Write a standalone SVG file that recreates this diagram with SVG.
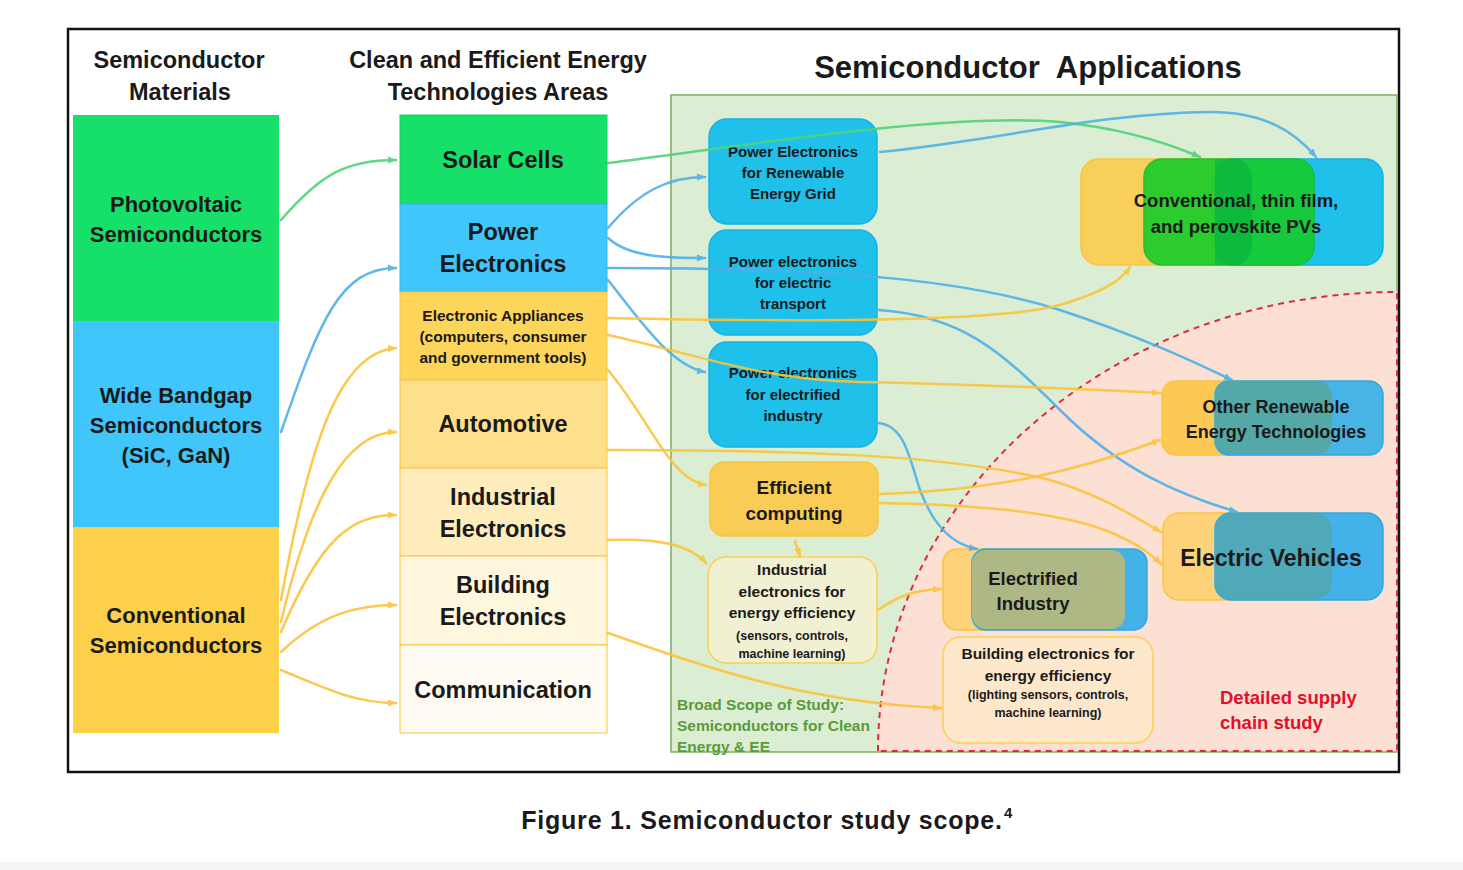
<svg xmlns="http://www.w3.org/2000/svg" width="1463" height="870" viewBox="0 0 1463 870">
<style>
text{font-family:"Liberation Sans",Arial,sans-serif;font-weight:bold;fill:#1a1a1a;text-anchor:middle}
.hd{font-size:23.5px}
.lc{font-size:22px}
.mc{font-size:23.5px}
.ap{font-size:15px}
.sm{font-size:12.5px}
.cl{fill:none;stroke-width:2.5;stroke-linecap:round;opacity:0.9}
.g{stroke:#52d37a}
.b{stroke:#4fb0e8}
.y{stroke:#fbc43a}
.blu{fill:#1fc0ea;stroke:#14b2e6;stroke-width:1.5}
.yel{fill:#f9cd55;stroke:#fbc43a;stroke-width:1.5}
</style>
<defs>
<marker id="aG" viewBox="0 0 10 10" refX="9" refY="5" markerWidth="9" markerHeight="9" markerUnits="userSpaceOnUse" orient="auto"><path d="M0,1 L10,5 L0,9 z" fill="#52d37a"/></marker>
<marker id="aB" viewBox="0 0 10 10" refX="9" refY="5" markerWidth="9" markerHeight="9" markerUnits="userSpaceOnUse" orient="auto"><path d="M0,1 L10,5 L0,9 z" fill="#4fb0e8"/></marker>
<marker id="aY" viewBox="0 0 10 10" refX="9" refY="5" markerWidth="9" markerHeight="9" markerUnits="userSpaceOnUse" orient="auto"><path d="M0,1 L10,5 L0,9 z" fill="#fbc43a"/></marker>
<clipPath id="pvTriple"><rect x="1215" y="150" width="100" height="130"/></clipPath>
</defs>
<rect x="0" y="0" width="1463" height="870" fill="#ffffff"/>
<rect x="0" y="862" width="1463" height="8" fill="#f4f4f4"/>
<rect x="68" y="29" width="1331" height="743" fill="#ffffff" stroke="#111" stroke-width="2.5"/>

<g id="regions">
<rect x="671" y="95" width="726" height="657" fill="#dbeed4" stroke="#78b060" stroke-width="1.5"/>
<path d="M878,751 A519,459 0 0 1 1397,292 L1397,751 Z" fill="#fde0d4"/>
<path d="M878,751 A519,459 0 0 1 1397,292 L1397,751 Z" fill="none" stroke="#e02a3a" stroke-width="2" stroke-dasharray="6,5"/>
</g>

<g id="headers">
<text class="hd" x="179" y="68">Semiconductor</text>
<text class="hd" x="180" y="100">Materials</text>
<text class="hd" x="498" y="68">Clean and Efficient Energy</text>
<text class="hd" x="498" y="100">Technologies Areas</text>
<text x="1028" y="78" style="font-size:31px" xml:space="preserve">Semiconductor  Applications</text>
</g>

<g id="mat-pv"><rect x="73" y="115" width="206" height="206" fill="#16e06a"/><text class="lc" x="176" y="212">Photovoltaic</text><text class="lc" x="176" y="242">Semiconductors</text></g>
<g id="mat-wbg"><rect x="73" y="321" width="206" height="206" fill="#40c6fa"/><text class="lc" x="176" y="403">Wide Bandgap</text><text class="lc" x="176" y="433">Semiconductors</text><text class="lc" x="176" y="463">(SiC, GaN)</text></g>
<g id="mat-conv"><rect x="73" y="527" width="206" height="206" fill="#fdd04a"/><text class="lc" x="176" y="623">Conventional</text><text class="lc" x="176" y="653">Semiconductors</text></g>

<g id="area-solar"><rect x="400" y="115" width="207" height="89" fill="#16e06a" stroke="#14d060"/><text class="mc" x="503" y="168">Solar Cells</text></g>
<g id="area-power"><rect x="400" y="204" width="207" height="88" fill="#40c6fa" stroke="#30b8f0"/><text class="mc" x="503" y="240">Power</text><text class="mc" x="503" y="272">Electronics</text></g>
<g id="area-appl"><rect x="400" y="292" width="207" height="88" fill="#fdd55a" stroke="#fbc43a"/><text style="font-size:15.5px" x="503" y="321">Electronic Appliances</text><text style="font-size:15.5px" x="503" y="342">(computers, consumer</text><text style="font-size:15.5px" x="503" y="363">and government tools)</text></g>
<g id="area-auto"><rect x="400" y="380" width="207" height="88" fill="#fee08c" stroke="#fbc43a"/><text class="mc" x="503" y="432">Automotive</text></g>
<g id="area-ind"><rect x="400" y="468" width="207" height="88" fill="#feecbc" stroke="#fbc43a"/><text class="mc" x="503" y="505">Industrial</text><text class="mc" x="503" y="537">Electronics</text></g>
<g id="area-bld"><rect x="400" y="556" width="207" height="89" fill="#fff6de" stroke="#fbc43a"/><text class="mc" x="503" y="593">Building</text><text class="mc" x="503" y="625">Electronics</text></g>
<g id="area-comm"><rect x="400" y="645" width="207" height="88" fill="#fffbf2" stroke="#fbc43a"/><text class="mc" x="503" y="698">Communication</text></g>

<g id="app-pe-grid"><rect class="blu" x="709" y="119" width="168" height="105" rx="18"/><text class="ap" x="793" y="157">Power Electronics</text><text class="ap" x="793" y="178">for Renewable</text><text class="ap" x="793" y="199">Energy Grid</text></g>
<g id="app-pe-transport"><rect class="blu" x="709" y="230" width="168" height="105" rx="18"/><text class="ap" x="793" y="267">Power electronics</text><text class="ap" x="793" y="288">for electric</text><text class="ap" x="793" y="309">transport</text></g>
<g id="app-pe-industry"><rect class="blu" x="709" y="342" width="168" height="105" rx="18"/><text class="ap" x="793" y="378">Power electronics</text><text class="ap" x="793" y="400">for electrified</text><text class="ap" x="793" y="421">industry</text></g>
<g id="app-eff-comp"><rect class="yel" x="710" y="462" width="168" height="74" rx="14"/><text style="font-size:19px" x="794" y="494">Efficient</text><text style="font-size:19px" x="794" y="520">computing</text></g>
<g id="app-ind-ee"><rect x="708" y="557" width="169" height="106" rx="18" fill="#f1f0d2" stroke="#fbd050" stroke-width="1.5"/><text style="font-size:15.5px" x="792" y="575">Industrial</text><text style="font-size:15.5px" x="792" y="597">electronics for</text><text style="font-size:15.5px" x="792" y="618">energy efficiency</text><text class="sm" x="792" y="640">(sensors, controls,</text><text class="sm" x="792" y="658">machine learning)</text></g>

<g id="app-pv">
<rect x="1081" y="159" width="171" height="106" rx="18" fill="#f8cf58" stroke="#fbc43a" stroke-width="1.5"/>
<rect x="1215" y="159" width="168" height="106" rx="18" fill="#1fc0ea" stroke="#14b2e6" stroke-width="1.5"/>
<rect x="1144" y="159" width="170" height="106" rx="18" fill="#16cc2a" opacity="0.9" stroke="#14c020" stroke-width="1.5"/>
<rect x="1081" y="159" width="171" height="106" rx="18" fill="#00a840" opacity="0.45" clip-path="url(#pvTriple)"/>
<text style="font-size:18.5px" x="1236" y="207">Conventional, thin film,</text>
<text style="font-size:18.5px" x="1236" y="233">and perovskite PVs</text>
</g>
<g id="app-other-re">
<rect x="1162" y="381" width="170" height="74" rx="14" fill="#fdc955" stroke="#fbc43a" stroke-width="1.5"/>
<rect x="1215" y="381" width="168" height="74" rx="14" fill="#48b4e6" stroke="#30a8e0" stroke-width="1.5"/>
<rect x="1215" y="382" width="117" height="72" rx="14" fill="#55a8a8"/>
<text style="font-size:18px" x="1276" y="413">Other Renewable</text>
<text style="font-size:18px" x="1276" y="438">Energy Technologies</text>
</g>
<g id="app-ev">
<rect x="1163" y="513" width="169" height="87" rx="16" fill="#fdd27a" stroke="#fbc43a" stroke-width="1.5"/>
<rect x="1215" y="513" width="168" height="87" rx="16" fill="#42b2e8" stroke="#30a8e0" stroke-width="1.5"/>
<rect x="1215" y="514" width="117" height="85" rx="16" fill="#4fa9b8"/>
<text style="font-size:23px" x="1271" y="566">Electric Vehicles</text>
</g>
<g id="app-elec-ind">
<rect x="943" y="549" width="182" height="81" rx="14" fill="#fdd27a" stroke="#fbc43a" stroke-width="1.5"/>
<rect x="972" y="549" width="175" height="81" rx="14" fill="#42b2e8" stroke="#30a8e0" stroke-width="1.5"/>
<rect x="972" y="550" width="153" height="79" rx="14" fill="#aeb884"/>
<text style="font-size:18.5px" x="1033" y="585">Electrified</text>
<text style="font-size:18.5px" x="1033" y="610">Industry</text>
</g>
<g id="app-bld-ee"><rect x="943" y="637" width="210" height="106" rx="18" fill="#fee8cc" stroke="#fbd050" stroke-width="1.5"/><text style="font-size:15.5px" x="1048" y="659">Building electronics for</text><text style="font-size:15.5px" x="1048" y="681">energy efficiency</text><text class="sm" x="1048" y="699">(lighting sensors, controls,</text><text class="sm" x="1048" y="717">machine learning)</text></g>

<g id="labels">
<text style="font-size:15.5px;fill:#5a9a3a;text-anchor:start" x="677" y="710">Broad Scope of Study:</text>
<text style="font-size:15.5px;fill:#5a9a3a;text-anchor:start" x="677" y="731">Semiconductors for Clean</text>
<text style="font-size:15.5px;fill:#5a9a3a;text-anchor:start" x="677" y="752">Energy &amp; EE</text>
<text style="font-size:18.5px;fill:#e0102a;text-anchor:start" x="1220" y="704">Detailed supply</text>
<text style="font-size:18.5px;fill:#e0102a;text-anchor:start" x="1220" y="729">chain study</text>
</g>

<g id="connectors">
<path class="cl g" d="M281,220 C320,175 345,160 396,160" marker-end="url(#aG)"/>
<path class="cl b" d="M281,432 C320,320 340,268 396,268" marker-end="url(#aB)"/>
<path class="cl y" d="M281,600 C310,440 340,352 396,348" marker-end="url(#aY)"/>
<path class="cl y" d="M281,622 C310,500 345,432 396,432" marker-end="url(#aY)"/>
<path class="cl y" d="M281,632 C320,540 350,515 396,515" marker-end="url(#aY)"/>
<path class="cl y" d="M281,652 C320,615 355,605 396,605" marker-end="url(#aY)"/>
<path class="cl y" d="M281,670 C330,690 355,703 396,703" marker-end="url(#aY)"/>

<path class="cl g" d="M608,163 C750,145 950,112 1060,122 C1120,128 1165,142 1200,157" marker-end="url(#aG)"/>
<path class="cl b" d="M880,152 C1000,140 1100,113 1210,112 C1265,112 1295,132 1316,157" marker-end="url(#aB)"/>
<path class="cl b" d="M608,228 C640,190 670,177 705,177" marker-end="url(#aB)"/>
<path class="cl b" d="M608,238 C630,258 670,258 705,258" marker-end="url(#aB)"/>
<path class="cl b" d="M608,268 C800,268 950,275 1060,310 C1150,340 1200,365 1232,380" marker-end="url(#aB)"/>
<path class="cl b" d="M608,280 C640,320 670,365 705,372" marker-end="url(#aB)"/>
<path class="cl b" d="M878,310 C960,315 1000,350 1060,410 C1120,470 1180,495 1237,512" marker-end="url(#aB)"/>
<path class="cl b" d="M878,423 C905,425 910,460 920,490 C935,530 955,545 977,549" marker-end="url(#aB)"/>
<path class="cl y" d="M608,318 C800,322 1000,322 1060,305 C1100,293 1120,282 1130,267" marker-end="url(#aY)"/>
<path class="cl y" d="M608,335 C700,355 760,380 860,382 C960,384 1100,390 1160,393" marker-end="url(#aY)"/>
<path class="cl y" d="M608,370 C650,420 670,480 706,485" marker-end="url(#aY)"/>
<path class="cl y" d="M608,450 C800,450 950,455 1050,480 C1100,495 1130,514 1161,532" marker-end="url(#aY)"/>
<path class="cl y" d="M880,494 C1000,490 1080,470 1160,440" marker-end="url(#aY)"/>
<path class="cl y" d="M880,503 C980,505 1060,512 1110,532 C1140,545 1152,555 1161,564" marker-end="url(#aY)"/>
<path class="cl y" d="M795,541 L800,556" marker-end="url(#aY)"/>
<path class="cl y" d="M608,540 C660,538 690,545 706,563" marker-end="url(#aY)"/>
<path class="cl y" d="M878,610 C900,595 915,590 941,589" marker-end="url(#aY)"/>
<path class="cl y" d="M608,633 C700,665 800,702 941,708" marker-end="url(#aY)"/>
</g>

<g id="caption">
<text style="font-size:25px;letter-spacing:0.8px" x="762" y="829">Figure 1. Semiconductor study scope.</text>
<text style="font-size:15px;text-anchor:start" x="1004" y="818">4</text>
</g>
</svg>
